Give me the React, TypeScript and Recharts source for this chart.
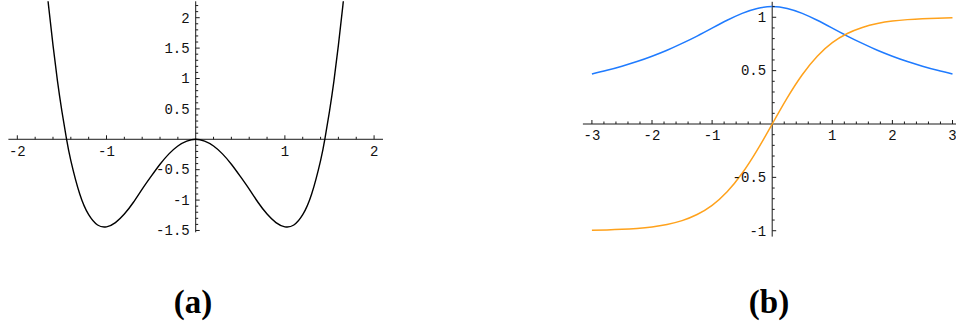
import React from 'react';
import { LineChart, Line, XAxis, YAxis, ReferenceLine, ReferenceDot } from 'recharts';

// ---------- panel (a): double-well curve ----------
const potX = [
  -1.75, -1.7, -1.65, -1.6, -1.55, -1.5, -1.45, -1.4, -1.3, -1.2, -1.1, -1.0,
  -0.9, -0.8, -0.7, -0.6, -0.5, -0.4, -0.3, -0.2, -0.1, 0,
  0.1, 0.2, 0.3, 0.4, 0.5, 0.6, 0.7, 0.8, 0.9, 1.0,
  1.1, 1.2, 1.3, 1.4, 1.45, 1.5, 1.55, 1.6, 1.65, 1.7, 1.75,
];
const potY = [
  3.9, 2.95, 2.2, 1.55, 0.96, 0.46, 0.02, -0.35, -0.9, -1.24, -1.41, -1.44,
  -1.37, -1.23, -1.04, -0.82, -0.61, -0.41, -0.24, -0.11, -0.03, 0,
  -0.03, -0.11, -0.24, -0.41, -0.61, -0.82, -1.04, -1.23, -1.37, -1.44,
  -1.41, -1.24, -0.9, -0.35, 0.02, 0.46, 0.96, 1.55, 2.2, 2.95, 3.9,
];
const aXMajor = [-2, -1, 1, 2];
const aXMinor = [-1.8, -1.6, -1.4, -1.2, -0.8, -0.6, -0.4, -0.2, 0.2, 0.4, 0.6, 0.8, 1.2, 1.4, 1.6, 1.8];
const aYMajor = [-1.5, -1, -0.5, 0.5, 1, 1.5, 2];
const aYMinor = [
  -1.4, -1.3, -1.2, -1.1, -0.9, -0.8, -0.7, -0.6, -0.4, -0.3, -0.2, -0.1,
  0.1, 0.2, 0.3, 0.4, 0.6, 0.7, 0.8, 0.9, 1.1, 1.2, 1.3, 1.4, 1.6, 1.7, 1.8, 1.9, 2.1, 2.2,
];

// ---------- panel (b): bell and kink ----------
const waveX = [-3, -2.75, -2.5, -2.25, -2, -1.75, -1.5, -1.25, -1, -0.75, -0.5, -0.25, 0,
  0.25, 0.5, 0.75, 1, 1.25, 1.5, 1.75, 2, 2.25, 2.5, 2.75, 3];
const bellY = [0.469, 0.503, 0.542, 0.585, 0.635, 0.691, 0.755, 0.824, 0.898, 0.972, 1.037, 1.083, 1.1,
  1.083, 1.037, 0.972, 0.898, 0.824, 0.755, 0.691, 0.635, 0.585, 0.542, 0.503, 0.469];
const kinkY = [-0.995, -0.992, -0.987, -0.978, -0.964, -0.941, -0.905, -0.848, -0.762, -0.635, -0.462, -0.245, 0,
  0.245, 0.462, 0.635, 0.762, 0.848, 0.905, 0.941, 0.964, 0.978, 0.987, 0.992, 0.995];
const bXMajor = [-3, -2, -1, 1, 2, 3];
const bXMinor = [-2.8, -2.6, -2.4, -2.2, -1.8, -1.6, -1.4, -1.2, -0.8, -0.6, -0.4, -0.2,
  0.2, 0.4, 0.6, 0.8, 1.2, 1.4, 1.6, 1.8, 2.2, 2.4, 2.6, 2.8];
const bYMajor = [-1, -0.5, 0.5, 1];
const bYMinor = [-0.9, -0.8, -0.7, -0.6, -0.4, -0.3, -0.2, -0.1, 0.1, 0.2, 0.3, 0.4,
  0.6, 0.7, 0.8, 0.9, 1.1];

const captions = ['(a)', '(b)'];

const AXIS = '#1a1a1a';
const TICK_FONT = '"Liberation Mono", "DejaVu Sans Mono", monospace';

const potData = potX.map((x, i) => ({ x, y: potY[i] }));
const waveData = waveX.map((x, i) => ({ x, bell: bellY[i], kink: kinkY[i] }));

const xTick = (len: number, label: string | null, labelDy: number) => (p: any) => (
  <g>
    <line x1={p.cx} y1={p.cy} x2={p.cx} y2={p.cy - len} stroke={AXIS} strokeWidth={1} />
    {label !== null && (
      <text x={p.cx} y={p.cy + labelDy} textAnchor="middle" fontFamily={TICK_FONT} fontSize={14} fill="#111">
        {label}
      </text>
    )}
  </g>
);

const yTick = (len: number, label: string | null) => (p: any) => (
  <g>
    <line x1={p.cx} y1={p.cy} x2={p.cx + len} y2={p.cy} stroke={AXIS} strokeWidth={1} />
    {label !== null && (
      <text x={p.cx - 6} y={p.cy + 4.8} textAnchor="end" fontFamily={TICK_FONT} fontSize={14} fill="#111">
        {label}
      </text>
    )}
  </g>
);

function axisMarks(xMajor: number[], xMinor: number[], yMajor: number[], yMinor: number[], xLabelDy: number) {
  const out: React.ReactNode[] = [];
  xMinor.forEach((v) => out.push(<ReferenceDot key={'xm' + v} x={v} y={0} r={0} shape={xTick(2.5, null, 0)} />));
  xMajor.forEach((v) => out.push(<ReferenceDot key={'xM' + v} x={v} y={0} r={0} shape={xTick(4, String(v), xLabelDy)} />));
  yMinor.forEach((v) => out.push(<ReferenceDot key={'ym' + v} x={0} y={v} r={0} shape={yTick(2.5, null)} />));
  yMajor.forEach((v) => out.push(<ReferenceDot key={'yM' + v} x={0} y={v} r={0} shape={yTick(4, String(v))} />));
  return out;
}

export default function App() {
  return (
    <div style={{ position: 'absolute', left: 0, top: 0, width: 956, height: 329, overflow: 'hidden', background: '#fff' }}>
      <div style={{ position: 'absolute', left: 0, top: 0 }}>
        <LineChart width={392} height={240} data={potData} margin={{ top: 1.3, right: 9, bottom: 7.7, left: 8.4 }}>
          <XAxis type="number" dataKey="x" domain={[-2.1, 2.1]} hide allowDataOverflow />
          <YAxis type="number" domain={[-1.53, 2.27]} hide allowDataOverflow />
          <ReferenceLine y={0} stroke={AXIS} strokeWidth={1} />
          <ReferenceLine x={0} stroke={AXIS} strokeWidth={1} />
          {axisMarks(aXMajor, aXMinor, aYMajor, aYMinor, 17)}
          <Line type="natural" dataKey="y" stroke="#000" strokeWidth={1.4} dot={false} isAnimationActive={false} />
        </LineChart>
      </div>
      <div style={{ position: 'absolute', left: 570, top: 0 }}>
        <LineChart width={400} height={240} data={waveData} margin={{ top: 1.8, right: 8.5, bottom: 3.4, left: 12.9 }}>
          <XAxis type="number" dataKey="x" domain={[-3.15, 3.15]} hide allowDataOverflow />
          <YAxis type="number" domain={[-1.055, 1.145]} hide allowDataOverflow />
          <ReferenceLine y={0} stroke={AXIS} strokeWidth={1} />
          <ReferenceLine x={0} stroke={AXIS} strokeWidth={1} />
          {axisMarks(bXMajor, bXMinor, bYMajor, bYMinor, 16.3)}
          <Line type="natural" dataKey="bell" stroke="#1f7bff" strokeWidth={1.5} dot={false} isAnimationActive={false} />
          <Line type="natural" dataKey="kink" stroke="#ffa21c" strokeWidth={1.5} dot={false} isAnimationActive={false} />
        </LineChart>
      </div>
      <svg width={956} height={329} style={{ position: 'absolute', left: 0, top: 0, pointerEvents: 'none' }}>
        <text x={193} y={313} textAnchor="middle" fontFamily='"Liberation Serif", serif' fontWeight="bold" fontSize={33} fill="#000">
          {captions[0]}
        </text>
        <text x={769} y={313} textAnchor="middle" fontFamily='"Liberation Serif", serif' fontWeight="bold" fontSize={33} fill="#000">
          {captions[1]}
        </text>
      </svg>
    </div>
  );
}
